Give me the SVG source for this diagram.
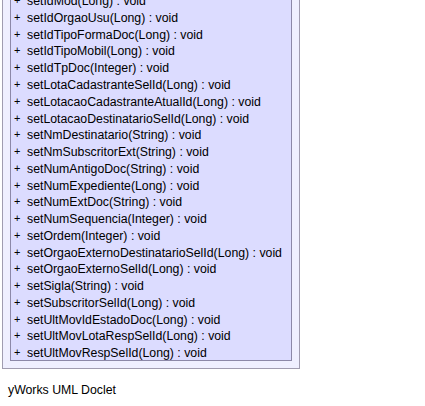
<svg xmlns="http://www.w3.org/2000/svg" width="425" height="406" viewBox="0 0 425 406">
<style>
.t{font-family:"Liberation Sans",Arial,sans-serif;font-size:12.3px;fill:#000}
.p{font-family:"Liberation Sans",Arial,sans-serif;font-size:11px;fill:#000}
</style>
<rect width="425" height="406" fill="#fff"/>
<g id="class-node">
<rect x="2.5" y="-20" width="297" height="388.5" fill="#efefff" stroke="#a09cb0"/>
<rect x="10.5" y="-20" width="281" height="380.5" fill="#dcdcff" stroke="#8c88a8"/>
<g class="p">
<text x="14" y="4">+</text><text x="14" y="21">+</text><text x="14" y="38">+</text><text x="14" y="54">+</text><text x="14" y="71">+</text><text x="14" y="88">+</text><text x="14" y="105">+</text><text x="14" y="122">+</text><text x="14" y="138">+</text><text x="14" y="155">+</text><text x="14" y="172">+</text><text x="14" y="189">+</text><text x="14" y="205">+</text><text x="14" y="222">+</text><text x="14" y="239">+</text><text x="14" y="256">+</text><text x="14" y="272">+</text><text x="14" y="289">+</text><text x="14" y="306">+</text><text x="14" y="323">+</text><text x="14" y="339">+</text><text x="14" y="356">+</text>
</g>
<g class="t">
<text x="27" y="5">setIdMod(Long) : void</text>
<text x="27" y="22">setIdOrgaoUsu(Long) : void</text>
<text x="27" y="39">setIdTipoFormaDoc(Long) : void</text>
<text x="27" y="55">setIdTipoMobil(Long) : void</text>
<text x="27" y="72">setIdTpDoc(Integer) : void</text>
<text x="27" y="89">setLotaCadastranteSelId(Long) : void</text>
<text x="27" y="106">setLotacaoCadastranteAtualId(Long) : void</text>
<text x="27" y="123">setLotacaoDestinatarioSelId(Long) : void</text>
<text x="27" y="139">setNmDestinatario(String) : void</text>
<text x="27" y="156">setNmSubscritorExt(String) : void</text>
<text x="27" y="173">setNumAntigoDoc(String) : void</text>
<text x="27" y="190">setNumExpediente(Long) : void</text>
<text x="27" y="206">setNumExtDoc(String) : void</text>
<text x="27" y="223">setNumSequencia(Integer) : void</text>
<text x="27" y="240">setOrdem(Integer) : void</text>
<text x="27" y="257">setOrgaoExternoDestinatarioSelId(Long) : void</text>
<text x="27" y="273">setOrgaoExternoSelId(Long) : void</text>
<text x="27" y="290">setSigla(String) : void</text>
<text x="27" y="307">setSubscritorSelId(Long) : void</text>
<text x="27" y="324">setUltMovIdEstadoDoc(Long) : void</text>
<text x="27" y="340">setUltMovLotaRespSelId(Long) : void</text>
<text x="27" y="357">setUltMovRespSelId(Long) : void</text>
</g>
</g>
<text class="t" x="8" y="394">yWorks UML Doclet</text>
</svg>
